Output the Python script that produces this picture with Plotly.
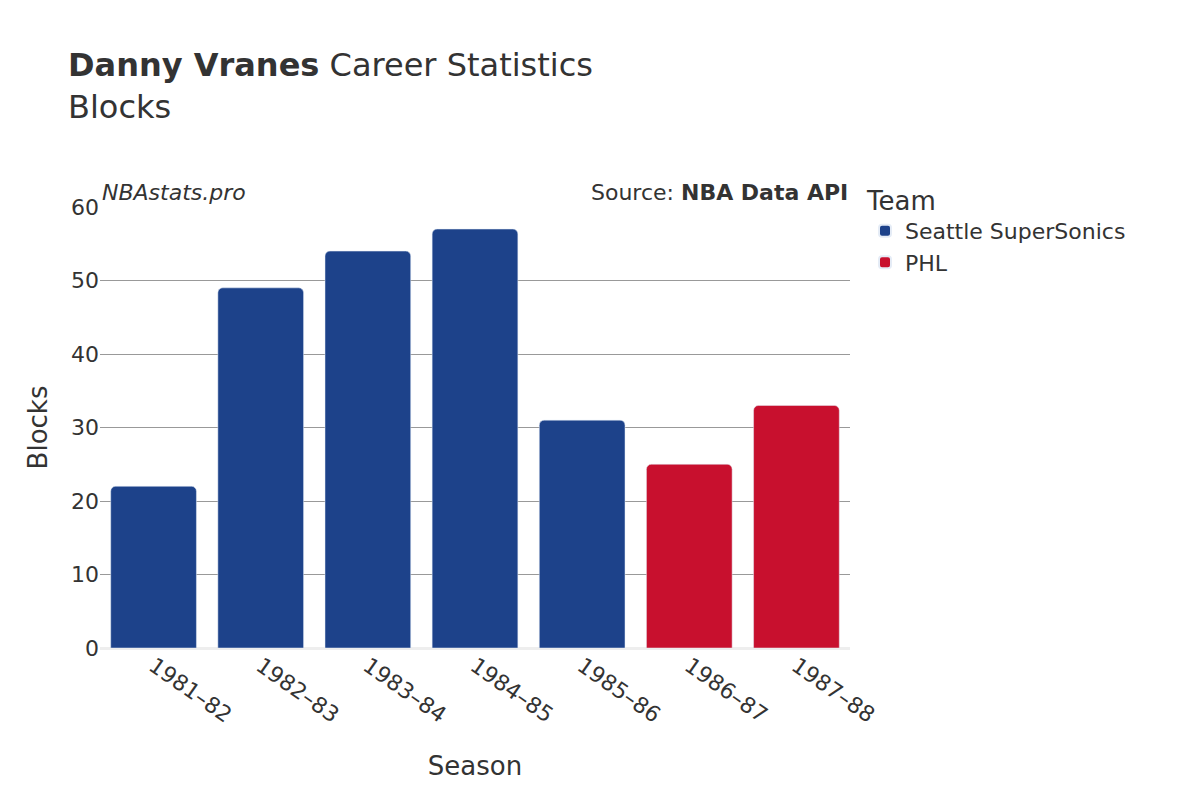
import plotly.graph_objects as go

seasons_sea = ["1981-82", "1982-83", "1983-84", "1984-85", "1985-86"]
blocks_sea = [22, 49, 54, 57, 31]
seasons_phl = ["1986-87", "1987-88"]
blocks_phl = [25, 33]
all_seasons = seasons_sea + seasons_phl

fig = go.Figure()
fig.add_trace(go.Bar(x=seasons_sea, y=blocks_sea, name="Seattle SuperSonics",
                     marker_color="#1D428A"))
fig.add_trace(go.Bar(x=seasons_phl, y=blocks_phl, name="PHL",
                     marker_color="#C8102E"))

fig.update_layout(
    width=1200, height=800,
    font=dict(family="DejaVu Sans", size=22, color="#333"),
    plot_bgcolor="white", paper_bgcolor="white",
    margin=dict(l=92, r=358, t=199, b=160),
    barmode="overlay", bargap=0.2, barcornerradius=5,
    title=dict(text="<b>Danny Vranes</b> Career Statistics<br>Blocks",
               x=0.05, xanchor="left", y=0.915, yanchor="top",
               font=dict(size=32)),
    legend=dict(title=dict(text="Team", font=dict(size=26)), x=1.02, y=1.07,
                yanchor="top", font=dict(size=22), itemsizing="constant"),
    xaxis=dict(title=dict(text="Season", standoff=30), categoryorder="array",
               categoryarray=all_seasons, tickangle=35),
    yaxis=dict(title="Blocks", range=[0, 60], dtick=10, gridcolor="#999",
               zeroline=True, zerolinecolor="#eee", zerolinewidth=3,
               automargin=False),
    annotations=[
        dict(text="<i>NBAstats.pro</i>", xref="paper", yref="paper", x=0,
             y=1.0, xanchor="left", yanchor="bottom", showarrow=False),
        dict(text="Source: <b>NBA Data API</b>", xref="paper", yref="paper",
             x=1, y=1.0, xanchor="right", yanchor="bottom", showarrow=False),
    ],
)
fig.update_xaxes(tickvals=all_seasons, automargin=False,
                 ticktext=[s.replace("-", "–") for s in all_seasons])

fig.write_html("out.html")
